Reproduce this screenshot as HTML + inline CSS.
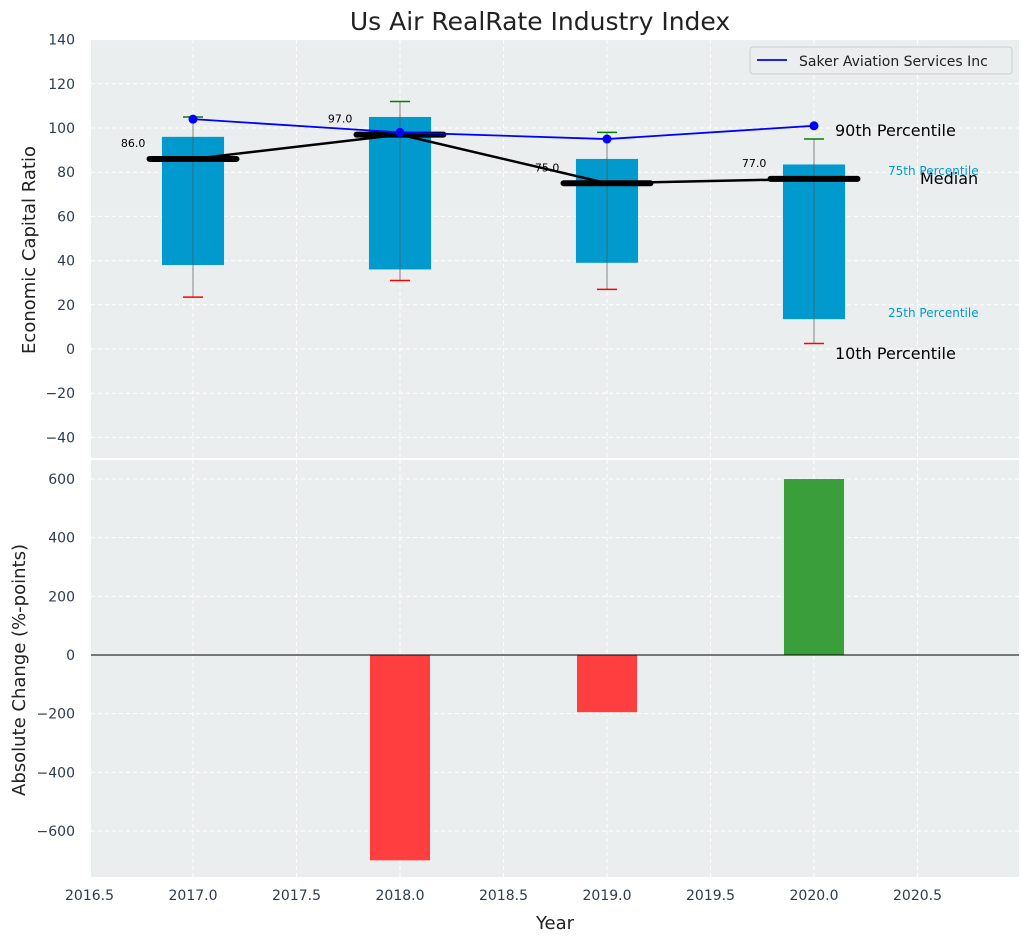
<!DOCTYPE html>
<html><head><meta charset="utf-8"><style>
body{margin:0;background:#fff;font-family:"Liberation Sans","DejaVu Sans",sans-serif}
svg text{font-family:"DejaVu Sans","Liberation Sans",sans-serif}
</style></head><body>
<svg id="c" width="1029" height="942" xmlns="http://www.w3.org/2000/svg"></svg>
<script>
const years=[2017,2018,2019,2020];
const q25=[38,36,39,13.5];
const q75=[96,105,86,83.5];
const p10=[23.5,31,27,2.5];
const p90=[105,112,98,95];
const medians=[86,97,75,77];
const company=[104,98,95,101];
const changes=[null,-700,-195,600];
const xTicks=[2016.5,2017,2017.5,2018,2018.5,2019,2019.5,2020,2020.5];
const yTopTicks=[-40,-20,0,20,40,60,80,100,120,140];
const yBotTicks=[-600,-400,-200,0,200,400,600];

const NS="http://www.w3.org/2000/svg";
const svg=document.getElementById('c');
function el(t,a,p){const e=document.createElementNS(NS,t);for(const k in a)e.setAttribute(k,a[k]);(p||svg).appendChild(e);return e;}
const X=v=>193+(v-2017)*207;
const YT=v=>349-v*2.21;
const YB=v=>655-v*0.2933;
const L=91,R=1019;

let t=el('text',{x:540,y:30,'text-anchor':'middle','font-size':25,fill:'#222'});t.textContent='Us Air RealRate Industry Index';



const topPanel=el('rect',{x:L,y:40,width:R-L,height:418,fill:'#eaeeef'});


const botPanel=el('rect',{x:L,y:460,width:R-L,height:417,fill:'#eaeeef'});



xTicks.forEach(v=>{
 el('line',{x1:X(v),x2:X(v),y1:40,y2:458,stroke:'#fff','stroke-dasharray':'4,3','stroke-width':1});
 el('line',{x1:X(v),x2:X(v),y1:460,y2:877,stroke:'#fff','stroke-dasharray':'4,3','stroke-width':1});
 const tx=el('text',{x:X(v),y:900,'text-anchor':'middle','font-size':14,fill:'#2e3b4e'});tx.textContent=v.toFixed(1);
 
 
});
yTopTicks.forEach(v=>{
 el('line',{x1:L,x2:R,y1:YT(v),y2:YT(v),stroke:'#fff','stroke-dasharray':'4,3'});
 const tx=el('text',{x:75,y:YT(v)+5,'text-anchor':'end','font-size':14,fill:'#2e3b4e'});tx.textContent=v<0?'\u2212'+(-v):v;
 
 
});
yBotTicks.forEach(v=>{
 el('line',{x1:L,x2:R,y1:YB(v),y2:YB(v),stroke:'#fff','stroke-dasharray':'4,3'});
 const tx=el('text',{x:75,y:YB(v)+5,'text-anchor':'end','font-size':14,fill:'#2e3b4e'});tx.textContent=v<0?'\u2212'+(-v):v;
 
 
});

years.forEach((y,i)=>{
 const b=el('rect',{x:X(y-0.15),y:YT(q75[i]),width:X(y+0.15)-X(y-0.15),height:YT(q25[i])-YT(q75[i]),fill:'#009ace'});
 
 
 el('line',{x1:X(y),x2:X(y),y1:YT(p90[i]),y2:YT(p10[i]),stroke:'#555','stroke-width':1,opacity:0.7});
 const w1=el('line',{x1:X(y)-10,x2:X(y)+10,y1:YT(p90[i]),y2:YT(p90[i]),stroke:'green','stroke-width':1.5});
 
 
 const w2=el('line',{x1:X(y)-10,x2:X(y)+10,y1:YT(p10[i]),y2:YT(p10[i]),stroke:'red','stroke-width':1.5});
 
 
});
let d=years.map((y,i)=>(i?'L':'M')+X(y)+','+YT(medians[i])).join(' ');
const ml=el('path',{d:d,stroke:'#000','stroke-width':2.5,fill:'none'});


years.forEach((y,i)=>{
 const m=el('line',{x1:X(y-0.21),x2:X(y+0.21),y1:YT(medians[i]),y2:YT(medians[i]),stroke:'#000','stroke-width':6,'stroke-linecap':'round'});
 
 
 const tx=el('text',{x:X(y-0.23),y:YT(medians[i])-12,'text-anchor':'end','font-size':11,fill:'#000'});tx.textContent=medians[i].toFixed(1);
 
 
});
d=years.map((y,i)=>(i?'L':'M')+X(y)+','+YT(company[i])).join(' ');
const cl=el('path',{d:d,stroke:'#0000ff','stroke-width':1.8,fill:'none'});


years.forEach((y,i)=>{const c=el('circle',{cx:X(y),cy:YT(company[i]),r:4.5,fill:'#0000ff'});
 
 });

const ann=[['90th Percentile',835,136,16,'#000'],['Median',920,184,16,'#000'],['75th Percentile',888,175,12,'#009ace'],['25th Percentile',888,317,12,'#009ace'],['10th Percentile',835,359,16,'#000']];
ann.forEach(a=>{const tx=el('text',{x:a[1],y:a[2],'font-size':a[3],fill:a[4]});tx.textContent=a[0];
 
 });

const lg=el('g',{});


el('rect',{x:750,y:47,width:262,height:27,fill:'#eaeeef',stroke:'#ccc',rx:3},lg);
el('line',{x1:757,x2:787,y1:60,y2:60,stroke:'#0000ff','stroke-width':1.8},lg);
t=el('text',{x:799,y:66,'font-size':14,fill:'#222'},lg);t.textContent='Saker Aviation Services Inc';

years.forEach((y,i)=>{if(changes[i]==null)return;
 const v=changes[i];const b=el('rect',{x:X(y-0.145),y:Math.min(YB(v),YB(0)),width:X(y+0.145)-X(y-0.145),height:Math.abs(YB(v)-YB(0)),fill:v<0?'#ff3f3f':'#3a9e3a'});
 
 });
el('line',{x1:L,x2:R,y1:YB(0),y2:YB(0),stroke:'#000','stroke-width':1});

t=el('text',{x:0,y:0,'font-size':18,fill:'#222','text-anchor':'middle',transform:'translate(35,250) rotate(-90)'});t.textContent='Economic Capital Ratio';


t=el('text',{x:0,y:0,'font-size':18,fill:'#222','text-anchor':'middle',transform:'translate(25,670) rotate(-90)'});t.textContent='Absolute Change (%-points)';


t=el('text',{x:555,y:929,'font-size':18,fill:'#222','text-anchor':'middle'});t.textContent='Year';


</script>
</body></html>
